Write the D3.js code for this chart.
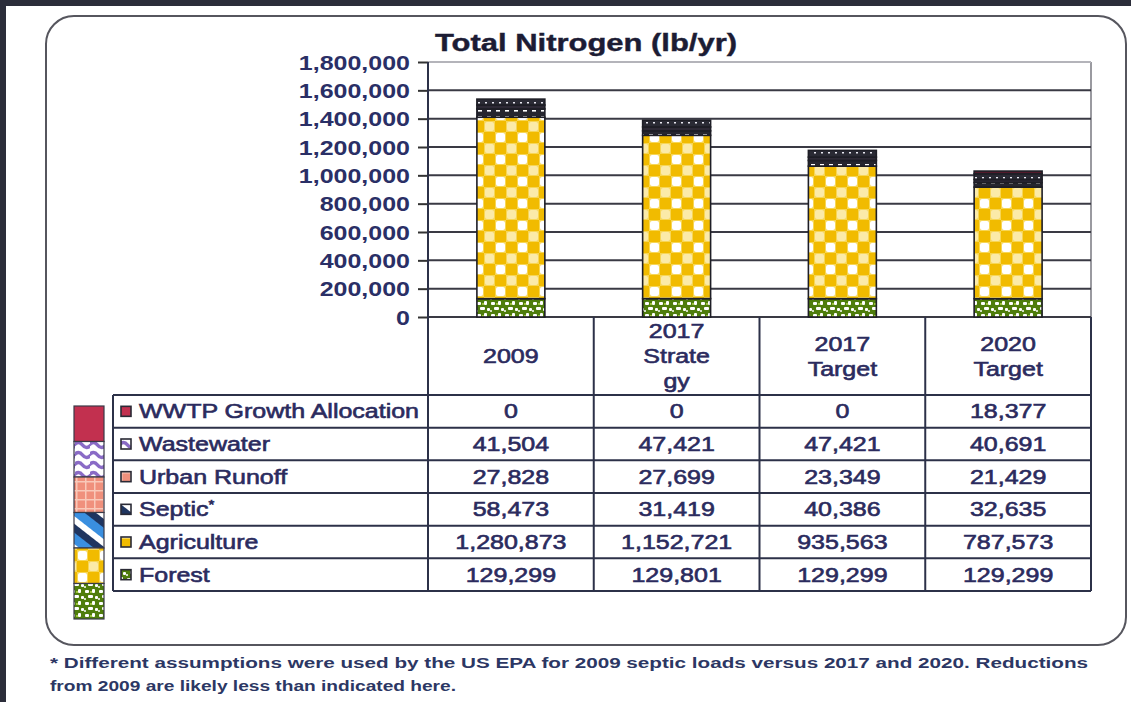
<!DOCTYPE html>
<html><head><meta charset="utf-8">
<script src="https://cdn.jsdelivr.net/npm/d3@7"></script>
<style>body{margin:0;background:#fff}svg{display:block;font-family:"Liberation Sans",Arial,sans-serif}</style>
</head><body><svg id="c" width="1131" height="702"></svg>
<script>
const categories = ["2009","2017 Strategy","2017 Target","2020 Target"];
const categoryLabels = [["2009"],["2017","Strate","gy"],["2017","Target"],["2020","Target"]];
const seriesNames = ["WWTP Growth Allocation","Wastewater","Urban Runoff","Septic","Agriculture","Forest"];
const wwtpGrowth = [0,0,0,18377];
const wastewater = [41504,47421,47421,40691];
const urbanRunoff = [27828,27699,23349,21429];
const septic = [58473,31419,40386,32635];
const agriculture = [1280873,1152721,935563,787573];
const forest = [129299,129801,129299,129299];
const yTicks = [0,200000,400000,600000,800000,1000000,1200000,1400000,1600000,1800000];
const titleText = "Total Nitrogen (lb/yr)";
const footnoteLines = ["* Different assumptions were used by the US EPA for 2009 septic loads versus 2017 and 2020.  Reductions",
                       "from 2009 are likely less than indicated here."];

const seriesValues = [wwtpGrowth, wastewater, urbanRunoff, septic, agriculture, forest];
const rows = categories.map((c,i)=>{const o={cat:c}; seriesNames.forEach((s,k)=>o[s]=seriesValues[k][i]); return o;});

const svg = d3.select("#c");
const sx = 1.25;
const txtCol = "#2b2b5e";
const lineCol = "#2c3148";
const defs = svg.append("defs");

// ---- patterns ----
function pat(id,w,h,bg,extra){const p=defs.append("pattern").attr("id",id).attr("patternUnits","userSpaceOnUse").attr("width",w).attr("height",h);
  p.append("rect").attr("width",w).attr("height",h).attr("fill",bg); if(extra) extra(p); return p;}
pat("pAgri",22,22,"#f7d655",p=>{
  p.append("rect").attr("x",0).attr("y",0).attr("width",11).attr("height",11).attr("fill","#f1bb00");
  p.append("rect").attr("x",11).attr("y",11).attr("width",11).attr("height",11).attr("fill","#f1bb00");
  p.append("rect").attr("x",12).attr("y",1).attr("width",9).attr("height",9).attr("rx",2).attr("fill","#fff");
  p.append("rect").attr("x",1).attr("y",12).attr("width",9).attr("height",9).attr("rx",2).attr("fill","#fbeaa8");
});
pat("pForest",14,12,"#4f7d0c",p=>{
  [[1,2,4,3],[8,1,3,4],[4,7,5,3],[11,8,3,3],[0,10,2,2]].forEach(r=>p.append("rect").attr("x",r[0]).attr("y",r[1]).attr("width",r[2]).attr("height",r[3]).attr("rx",1).attr("fill","#fff"));
  p.append("rect").attr("x",6).attr("y",3).attr("width",2).attr("height",2).attr("fill","#9bc23a");
});
pat("pDark",9,6,"#26262f",p=>{p.append("rect").attr("x",1).attr("y",2).attr("width",4).attr("height",1.6).attr("fill","#fff");});
pat("pDark2",7,5,"#2a2a34",p=>{p.append("rect").attr("x",2).attr("y",2).attr("width",2).attr("height",1.5).attr("fill","#e8e8f0");});
pat("pWaves",15,10,"#fff",p=>{p.append("path").attr("d","M-1,5 Q3.75,0 7.5,5 T16,5").attr("fill","none").attr("stroke","#8a6bc6").attr("stroke-width",3.5);});
pat("pUrban",9,9,"#f0907c",p=>{
  p.append("rect").attr("x",0).attr("y",4).attr("width",9).attr("height",1.5).attr("fill","#f9c9b9");
  p.append("rect").attr("x",4).attr("y",0).attr("width",1.5).attr("height",9).attr("fill","#f9c9b9");
});
pat("pSeptic",22,22,"#fff",p=>{
  p.attr("patternTransform","rotate(38)");
  p.append("rect").attr("x",0).attr("y",0).attr("width",22).attr("height",9).attr("fill","#3a8fe0");
  p.append("rect").attr("x",0).attr("y",15).attr("width",22).attr("height",7).attr("fill","#1f3560");
});
pat("pWWTP",4,4,"#c2304f");

const barFill = {"WWTP Growth Allocation":"#5a1a2c","Wastewater":"url(#pDark2)","Urban Runoff":"#2e2a36","Septic":"url(#pDark)","Agriculture":"url(#pAgri)","Forest":"url(#pForest)"};
const legendFill = {"WWTP Growth Allocation":"url(#pWWTP)","Wastewater":"url(#pWaves)","Urban Runoff":"url(#pUrban)","Septic":"url(#pSeptic)","Agriculture":"url(#pAgri)","Forest":"url(#pForest)"};

// ---- frame ----
svg.append("rect").attr("x",0).attr("y",0).attr("width",1131).attr("height",6).attr("fill","#2b2d3a");
svg.append("rect").attr("x",0).attr("y",0).attr("width",6).attr("height",702).attr("fill","#2b2d3a");
svg.append("rect").attr("x",46).attr("y",16).attr("width",1080).attr("height",629).attr("rx",28).attr("fill","#fff").attr("stroke","#56565e").attr("stroke-width",2);

// ---- scales ----
const plotL = 428, plotR = 1091, plotT = 62, plotB = 317;
const y = d3.scaleLinear().domain([0,1800000]).range([plotB,plotT]);
const xCol = d3.scaleBand().domain(categories).range([plotL,plotR]);
const xBar = d3.scaleBand().domain(categories).range([plotL,plotR]).paddingInner(0.59).paddingOuter(0.295);
const rowY = d3.scaleBand().domain(seriesNames).range([395,591]);
const legY = d3.scaleBand().domain(seriesNames).range([406,619]);

// title
svg.append("text").attr("x",586).attr("y",51).attr("text-anchor","middle").attr("font-size",23).attr("font-weight","bold")
  .attr("fill","#1c1c34").attr("stroke","#1c1c34").attr("stroke-width",0.4)
  .attr("textLength",302).attr("lengthAdjust","spacingAndGlyphs").text(titleText);

// plot area border + gridlines
svg.append("line").attr("x1",plotR).attr("x2",plotR).attr("y1",plotT).attr("y2",plotB).attr("stroke","#9a9aa0").attr("stroke-width",2);
svg.selectAll("line.grid").data(yTicks).join("line").attr("class","grid")
  .attr("x1",plotL).attr("x2",plotR).attr("y1",d=>y(d)).attr("y2",d=>y(d))
  .attr("stroke",d=>d===1800000?"#b4b4ba":"#3a3a44").attr("stroke-width",2);

// y axis
const yAxis = svg.append("g").attr("transform",`translate(${plotL},0)`)
  .call(d3.axisLeft(y).tickValues(yTicks).tickFormat(d3.format(",")).tickSize(10).tickPadding(0));
yAxis.attr("font-family",null).attr("font-size",20);
yAxis.select(".domain").remove();
yAxis.selectAll(".tick line").attr("stroke","#333").attr("stroke-width",2);
yAxis.selectAll(".tick text").attr("x",-18/sx).attr("transform",`scale(${sx},1)`).attr("dy","0.36em")
  .attr("font-weight","bold").attr("fill","#2a2f66");

// bars
const stackKeys = seriesNames.slice().reverse();
const stacked = d3.stack().keys(stackKeys)(rows);
svg.append("g").selectAll("g").data(stacked).join("g")
  .attr("fill",d=>barFill[d.key])
  .selectAll("rect").data(d=>d.filter(p=>p[1]>p[0])).join("rect")
  .attr("x",d=>xBar(d.data.cat)).attr("width",xBar.bandwidth())
  .attr("y",d=>y(d[1])).attr("height",d=>y(d[0])-y(d[1]))
  .attr("stroke","#1e1e26").attr("stroke-width",1.6);

// table lines
const tl = svg.append("g").attr("stroke",lineCol).attr("stroke-width",2);
tl.append("line").attr("x1",plotL).attr("x2",plotL).attr("y1",plotT).attr("y2",591);
categories.forEach(c=>{const xe=xCol(c)+xCol.bandwidth(); tl.append("line").attr("x1",xe).attr("x2",xe).attr("y1",plotB).attr("y2",591);});
tl.append("line").attr("x1",113).attr("x2",113).attr("y1",395).attr("y2",591);
tl.append("line").attr("x1",113).attr("x2",plotR).attr("y1",395).attr("y2",395);
seriesNames.forEach(s=>{const yb=rowY(s)+rowY.bandwidth(); tl.append("line").attr("x1",113).attr("x2",plotR).attr("y1",yb).attr("y2",yb);});

function stxt(x,yy,str,anchor,size,weight,color){
  return svg.append("text").attr("transform",`translate(${x},${yy}) scale(${sx},1)`).attr("text-anchor",anchor)
    .attr("font-size",size).attr("font-weight",weight).attr("fill",color)
    .attr("stroke",color).attr("stroke-width",0.6).text(str);
}

// header labels
categories.forEach((c,i)=>{
  const lines = categoryLabels[i]; const cx = xCol(c)+xCol.bandwidth()/2; const cy = 356;
  lines.forEach((ln,k)=>stxt(cx, cy + (k-(lines.length-1)/2)*25 + 7, ln, "middle", 20, "normal", txtCol));
});

// rows
const fmt = d3.format(",");
seriesNames.forEach((s,k)=>{
  const cy = rowY(s)+rowY.bandwidth()/2;
  svg.append("rect").attr("x",121).attr("y",cy-5).attr("width",10).attr("height",10).attr("fill",legendFill[s]).attr("stroke","#2a2a35").attr("stroke-width",1.6);
  const t = stxt(139, cy+7, s, "start", 20, "normal", txtCol);
  if(s==="Septic") t.append("tspan").attr("font-size",12).attr("dy",-7).text("*");
  categories.forEach((c,i)=>{
    stxt(xCol(c)+xCol.bandwidth()/2, cy+7, fmt(seriesValues[k][i]), "middle", 20, "normal", txtCol);
  });
  // left legend swatch
  svg.append("rect").attr("x",74).attr("y",legY(s)).attr("width",30).attr("height",legY.bandwidth())
    .attr("fill",legendFill[s]).attr("stroke","#3a3a48").attr("stroke-width",1.2);
});

// footnote
footnoteLines.forEach((ln,i)=>{
  svg.append("text").attr("x",50).attr("y",668+i*23).attr("font-size",14).attr("font-weight","bold").attr("fill","#2c3764")
    .attr("textLength", i===0?1038:406).attr("lengthAdjust","spacingAndGlyphs").text(ln);
});
</script></body></html>
